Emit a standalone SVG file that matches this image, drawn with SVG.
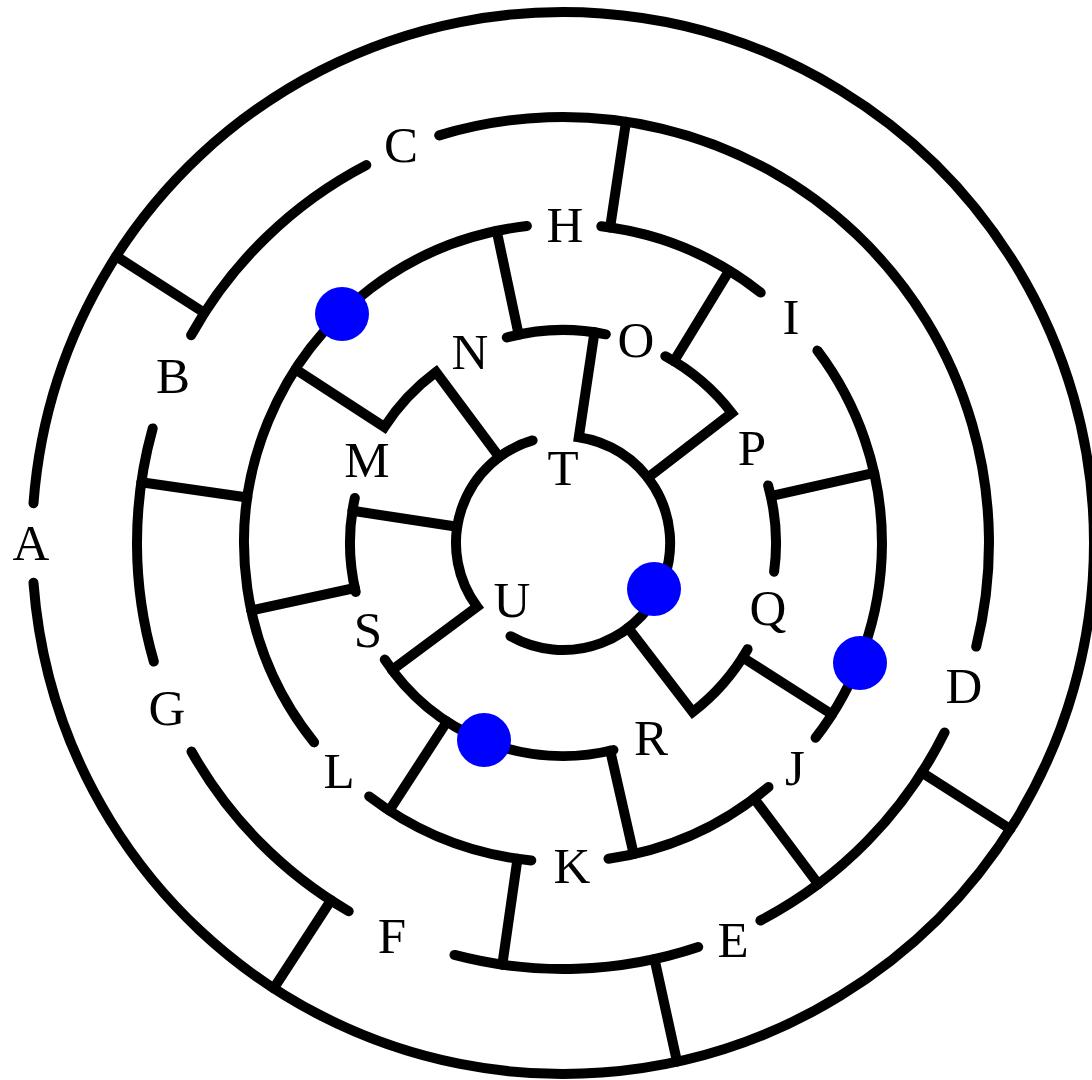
<svg xmlns="http://www.w3.org/2000/svg" width="1092" height="1080" viewBox="0 0 1092 1080">
<style>
.w{fill:none;stroke:#000;stroke-width:10;stroke-linecap:round;stroke-linejoin:miter}
.l{font-family:"Liberation Serif","DejaVu Serif",serif;font-size:51px;text-anchor:middle;fill:#000}
.d{fill:#0000ff}
</style>
<rect width="1092" height="1080" fill="#fff"/>
<g id="walls">
<!-- ring 1 -->
<path class="w" d="M33.5,503.2 A531,531 0 1 1 33.5,582.8"/>
<!-- ring 1-2 radials -->
<path class="w" d="M204.5,312.9 L116.2,256.2"/>
<path class="w" d="M331.0,900.3 L273.8,988.3"/>
<path class="w" d="M654.5,959.1 L677.0,1061.6"/>
<path class="w" d="M921.9,772.5 L1010.4,829.1"/>
<!-- ring 2 -->
<path class="w" d="M439.2,135.4 A426,426 0 0 1 976.2,646.6"/>
<path class="w" d="M944.6,732.4 A426,426 0 0 1 760.4,920.5"/>
<path class="w" d="M698.2,947.0 A426,426 0 0 1 454.5,954.9"/>
<path class="w" d="M348.7,911.2 A426,426 0 0 1 191.5,751.5"/>
<path class="w" d="M153.8,661.5 A426,426 0 0 1 152.7,428.4"/>
<path class="w" d="M191.1,335.2 A426,426 0 0 1 366.3,165.1"/>
<!-- ring 2-3 radials -->
<path class="w" d="M247.3,497.5 L141.3,482.3"/>
<path class="w" d="M610.1,227.5 L626.0,121.7"/>
<path class="w" d="M517.5,858.7 L502.3,964.7"/>
<path class="w" d="M754.1,798.4 L818.2,884.1"/>
<!-- ring 3 -->
<path class="w" d="M314.1,742.4 A319,319 0 0 1 526.9,226.0"/>
<path class="w" d="M601.3,226.3 A319,319 0 0 1 760.7,292.6"/>
<path class="w" d="M817.4,350.6 A319,319 0 0 1 815.6,737.8"/>
<path class="w" d="M768.5,787.0 A319,319 0 0 1 608.5,858.7"/>
<path class="w" d="M531.3,860.4 A319,319 0 0 1 369.2,796.4"/>
<!-- ring 3-4 radials -->
<path class="w" d="M447.0,721.6 L389.3,810.5"/>
<path class="w" d="M610.2,750.7 L633.7,854.1"/>
<path class="w" d="M770.8,496.2 L874.2,472.9"/>
<path class="w" d="M674.0,361.2 L729.2,270.7"/>
<path class="w" d="M518.7,334.7 L496.7,231.0"/>
<path class="w" d="M354.8,588.0 L251.2,610.4"/>
<path class="w" d="M742.6,657.4 L832.0,714.4"/>
<!-- ring 4 with attached walls -->
<path class="w" d="M506.8,337.5 A213,213 0 0 1 605.8,334.3"/>
<path class="w" d="M665.3,356.2 A213,213 0 0 1 731.8,413.0 L647.8,477.7"/>
<path class="w" d="M768.1,485.4 A213,213 0 0 1 774.1,571.7"/>
<path class="w" d="M747.6,649.2 A213,213 0 0 1 692.7,712.0 L628.1,627.9"/>
<path class="w" d="M613.4,750.0 A213,213 0 0 1 384.8,659.6"/>
<path class="w" d="M355.7,592.0 A213,213 0 0 1 354.8,498.0"/>
<path class="w" d="M295.5,369.3 L384.4,427.0 A213,213 0 0 1 436.0,372.0 L499.2,457.1"/>
<!-- ring 4-5 radials -->
<path class="w" d="M457.2,526.8 L352.5,510.8"/>
<!-- ring 5 with attached walls -->
<path class="w" d="M392.0,670.0 L477.1,606.8 A107,107 0 0 1 532.6,440.4"/>
<path class="w" d="M594.5,332.3 L578.8,437.2 A107,107 0 1 1 510.5,636.2"/>
</g>
<g id="markers">
<circle class="d" cx="342" cy="314" r="27"/>
<circle class="d" cx="654" cy="589" r="27"/>
<circle class="d" cx="860" cy="663" r="27"/>
<circle class="d" cx="484" cy="740" r="27"/>
</g>
<g id="labels">
<g id="A"><text class="l" x="31" y="560">A</text></g>
<g id="B"><text class="l" x="173" y="393">B</text></g>
<g id="C"><text class="l" x="401" y="162">C</text></g>
<g id="D"><text class="l" x="964" y="703">D</text></g>
<g id="E"><text class="l" x="733" y="957">E</text></g>
<g id="F"><text class="l" x="392" y="953">F</text></g>
<g id="G"><text class="l" x="167" y="725">G</text></g>
<g id="H"><text class="l" x="565" y="242">H</text></g>
<g id="I"><text class="l" x="791" y="334">I</text></g>
<g id="J"><text class="l" x="795" y="785">J</text></g>
<g id="K"><text class="l" x="572" y="883">K</text></g>
<g id="L"><text class="l" x="339" y="788">L</text></g>
<g id="M"><text class="l" x="367" y="477">M</text></g>
<g id="N"><text class="l" x="470" y="369">N</text></g>
<g id="O"><text class="l" x="636" y="357">O</text></g>
<g id="P"><text class="l" x="752" y="465">P</text></g>
<g id="Q"><text class="l" x="768" y="625">Q</text></g>
<g id="R"><text class="l" x="651" y="755">R</text></g>
<g id="S"><text class="l" x="368" y="647">S</text></g>
<g id="T"><text class="l" x="563" y="485">T</text></g>
<g id="U"><text class="l" x="512" y="617">U</text></g>
</g>
</svg>
